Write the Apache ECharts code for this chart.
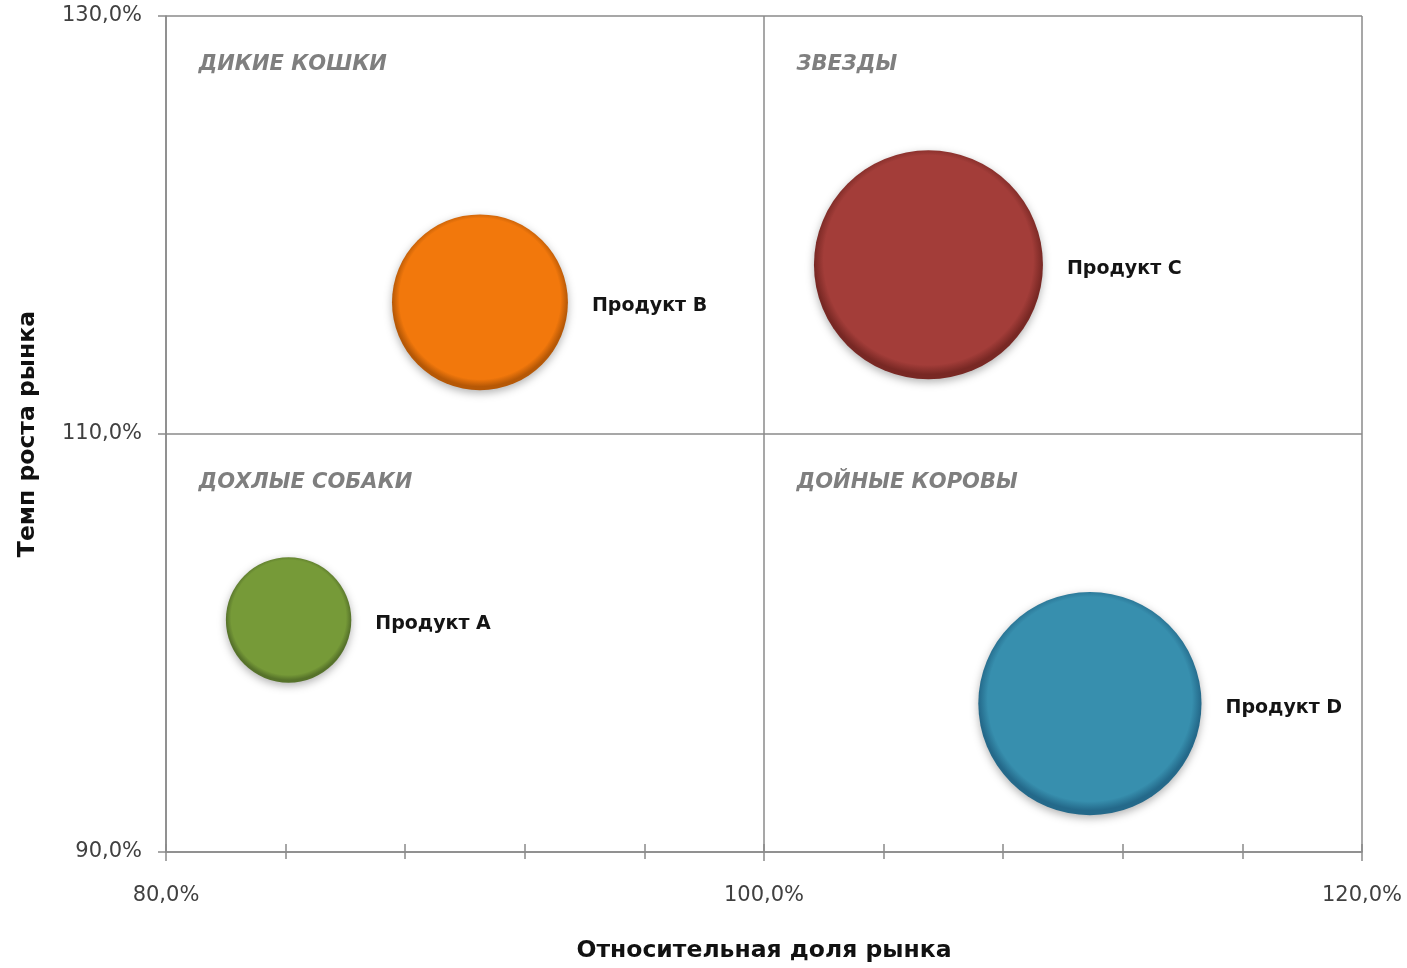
<!DOCTYPE html>
<html>
<head>
<meta charset="utf-8">
<script src="https://cdn.jsdelivr.net/npm/echarts@6/dist/echarts.min.js"></script>
<style>
    html, body { margin: 0; padding: 0; background: #fff; }
    #chart { width: 1407px; height: 968px; }
</style>
</head>
<body>
<div id="chart"></div>
<script>
// данные матрицы БКГ
var products = ['Продукт A', 'Продукт B', 'Продукт C', 'Продукт D'];
var marketShare = [84.1, 90.5, 105.5, 110.9];      // относительная доля рынка, %
var marketGrowth = [101.1, 116.3, 118.1, 97.1];    // темп роста рынка, %
var bubbleSize = [30, 59, 100, 95];

// квадранты: название и левый верхний угол
var quadrantNames = ['ДИКИЕ КОШКИ', 'ЗВЕЗДЫ', 'ДОХЛЫЕ СОБАКИ', 'ДОЙНЫЕ КОРОВЫ'];
var quadrantShare = [80, 100, 80, 100];
var quadrantGrowth = [130, 130, 110, 110];

(function () {
    var myChart = echarts.init(document.getElementById('chart'))

    var colors = ['#769a38', '#f2780c', '#a33d39', '#378fae']
    var rims = ['#56722a', '#b65806', '#782824', '#24698a']
    var maxDiameter = 229
    var lineColor = '#8a8a8a'

    function pct(v) {
        return v.toFixed(1).replace('.', ',') + '%'
    }

    var bubbles = products.map(function (name, i) {
        return {
            name: name,
            value: [marketShare[i], marketGrowth[i], bubbleSize[i]],
            itemStyle: {
                opacity: 1,
                color: {
                    type: 'radial', x: 0.5, y: 0.48, r: 0.52,
                    colorStops: [
                        { offset: 0, color: colors[i] },
                        { offset: 0.88, color: colors[i] },
                        { offset: 0.96, color: rims[i] },
                        { offset: 1, color: rims[i] }
                    ]
                }
            }
        }
    })

    var quadrants = quadrantNames.map(function (name, i) {
        return { name: name, value: [quadrantShare[i], quadrantGrowth[i]] }
    })

    var option = {
        animation: false,
        grid: { left: 166, right: 45, top: 16, bottom: 115 },
        xAxis: [{
            type: 'value',
            min: 80, max: 120, interval: 20,
            name: 'Относительная доля рынка',
            nameLocation: 'middle',
            nameGap: 87,
            nameTextStyle: { fontFamily: 'DejaVu Sans', fontWeight: 'bold', fontSize: 23.5, color: '#111' },
            axisLine: { lineStyle: { color: lineColor, width: 1.5 } },
            axisTick: { length: 9, lineStyle: { color: lineColor, width: 1.5 } },
            minorTick: { show: true, splitNumber: 5, length: 7, lineStyle: { color: lineColor, width: 1.5 } },
            splitLine: { show: true, lineStyle: { color: lineColor, width: 1.5 } },
            axisLabel: {
                margin: 33, fontFamily: 'DejaVu Sans', fontSize: 21, color: '#404040',
                formatter: pct
            }
        }, {
            // короткие засечки внутрь области
            type: 'value',
            min: 80, max: 120, interval: 4,
            position: 'bottom',
            axisLine: { show: false },
            axisTick: { inside: true, length: 8, lineStyle: { color: lineColor, width: 1.5 } },
            axisLabel: { show: false },
            splitLine: { show: false }
        }],
        yAxis: {
            type: 'value',
            min: 90, max: 130, interval: 20,
            name: 'Темп роста рынка',
            nameLocation: 'middle',
            nameGap: 126,
            nameTextStyle: { fontFamily: 'DejaVu Sans', fontWeight: 'bold', fontSize: 23.5, color: '#111' },
            axisLine: { show: true, lineStyle: { color: lineColor, width: 1.5 } },
            axisTick: { show: true, length: 8, lineStyle: { color: lineColor, width: 1.5 } },
            splitLine: { show: true, lineStyle: { color: lineColor, width: 1.5 } },
            axisLabel: {
                margin: 24, fontFamily: 'DejaVu Sans', fontSize: 21, color: '#404040',
                formatter: pct
            }
        },
        series: [
            {
                name: 'quadrants',
                type: 'scatter',
                silent: true,
                symbolSize: 1,
                itemStyle: { color: 'rgba(0,0,0,0)' },
                label: {
                    show: true,
                    position: [33, 49],
                    align: 'left',
                    verticalAlign: 'middle',
                    formatter: '{b}',
                    fontFamily: 'DejaVu Sans',
                    fontStyle: 'italic',
                    fontWeight: 'bold',
                    fontSize: 21,
                    color: '#5f5f5f'
                },
                data: quadrants
            },
            {
                name: 'products',
                type: 'scatter',
                silent: true,
                symbolSize: function (val) {
                    return maxDiameter * Math.sqrt(val[2] / 100)
                },
                itemStyle: {
                    opacity: 1,
                    shadowBlur: 8,
                    shadowOffsetY: 3,
                    shadowColor: 'rgba(0,0,0,0.3)'
                },
                label: {
                    show: true,
                    position: 'right',
                    distance: 24,
                    offset: [0, 4],
                    formatter: '{b}',
                    fontFamily: 'DejaVu Sans',
                    fontWeight: 'bold',
                    fontSize: 19,
                    color: '#141414'
                },
                data: bubbles
            }
        ]
    }

    myChart.setOption(option)
    window.addEventListener('resize', function () {
        myChart.resize()
    })
}());
</script>
</body>
</html>
